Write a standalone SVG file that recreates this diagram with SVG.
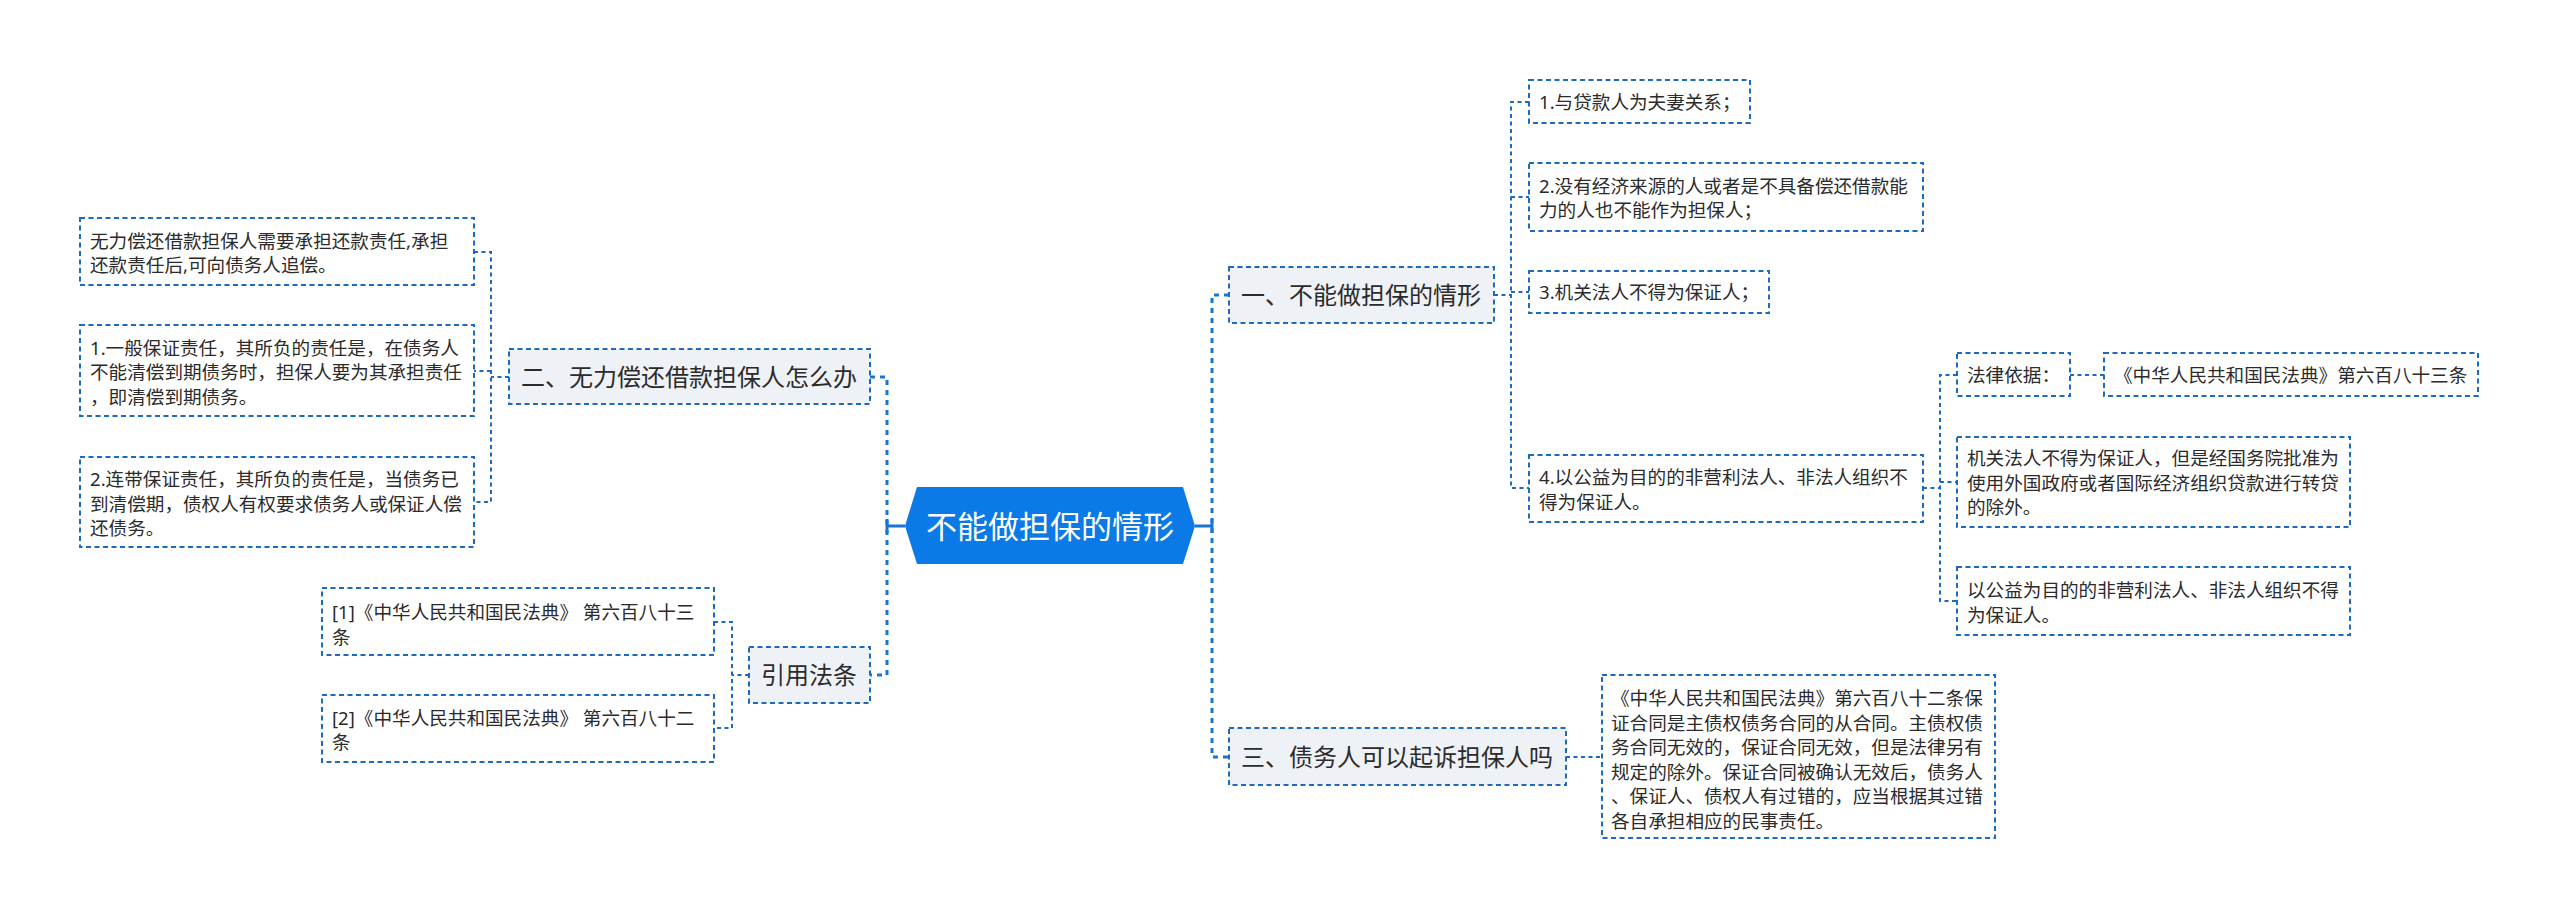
<svg xmlns="http://www.w3.org/2000/svg" width="2560" height="919" viewBox="0 0 2560 919">
<style>
text{font-family:"Noto Sans","Noto Sans CJK SC",sans-serif;fill:#2b2b2b}
.leaf rect{fill:#fff;stroke:#1c6bc0;stroke-width:2;stroke-dasharray:5 3.5}
.leaf text{font-size:18.6px}
.l1 rect{fill:#eef1f5;stroke:#1c6bc0;stroke-width:2;stroke-dasharray:5 3.5}
.l1 text{font-size:24px}
.trunk{fill:none;stroke:#1a74d6;stroke-width:3;stroke-dasharray:5 5}
.solid{fill:none;stroke:#1a74d6;stroke-width:3}
.sub{fill:none;stroke:#1c6bc0;stroke-width:2;stroke-dasharray:4 3.5}
</style>
<rect width="2560" height="919" fill="#fff"/>
<g id="connectors">
<path class="trunk" d="M870,377 H887 V675 H870"/>
<path class="solid" d="M887,526 H905 M887,519 V533"/>
<path class="trunk" d="M1229,295 H1212 V757 H1229"/>
<path class="solid" d="M1195,526 H1212 M1212,519 V533"/>
<path class="sub" d="M509,377 H491 M474,252 H491 V502 H474 M491,371 H474"/>
<path class="sub" d="M749,675 H732 M714,622 H732 V728 H714"/>
<path class="sub" d="M1494,295 H1511 M1529,102 H1511 V488 H1529 M1511,197 H1529 M1511,292 H1529"/>
<path class="sub" d="M1923,488 H1940 M1957,375 H1940 V601 H1957 M1940,482 H1957"/>
<path class="sub" d="M2070,375 H2104"/>
<path class="sub" d="M1566,757 H1602"/>
</g>
<g id="root">
<polygon points="905,526 917,487 1183,487 1195,526 1183,564 917,564" fill="#0b7ae6"/>
<text x="1050" y="538" text-anchor="middle" style="font-size:31px;fill:#fff">不能做担保的情形</text>
</g>
<g id="n2" class="l1">
<rect x="509" y="349" width="361" height="55"/>
<text x="521" y="385.5">二、无力偿还借款担保人怎么办</text>
</g>
<g id="n2a" class="leaf">
<rect x="80" y="218" width="394" height="67"/>
<text x="90"><tspan x="90" y="248">无力偿还借款担保人需要承担还款责任,承担</tspan><tspan x="90" y="271.5">还款责任后,可向债务人追偿。</tspan></text>
</g>
<g id="n2b" class="leaf">
<rect x="80" y="325" width="394" height="91"/>
<text x="90"><tspan x="90" y="354.5">1.一般保证责任，其所负的责任是，在债务人</tspan><tspan x="90" y="379">不能清偿到期债务时，担保人要为其承担责任</tspan><tspan x="90" y="403.5">，即清偿到期债务。</tspan></text>
</g>
<g id="n2c" class="leaf">
<rect x="80" y="457" width="394" height="90"/>
<text x="90"><tspan x="90" y="486">2.连带保证责任，其所负的责任是，当债务已</tspan><tspan x="90" y="510.5">到清偿期，债权人有权要求债务人或保证人偿</tspan><tspan x="90" y="535">还债务。</tspan></text>
</g>
<g id="n4" class="l1">
<rect x="749" y="647" width="121" height="56"/>
<text x="761" y="684">引用法条</text>
</g>
<g id="n4a" class="leaf">
<rect x="322" y="588" width="392" height="67"/>
<text x="332"><tspan x="332" y="619">[1]《中华人民共和国民法典》 第六百八十三</tspan><tspan x="332" y="643.5">条</tspan></text>
</g>
<g id="n4b" class="leaf">
<rect x="322" y="695" width="392" height="67"/>
<text x="332"><tspan x="332" y="724.5">[2]《中华人民共和国民法典》 第六百八十二</tspan><tspan x="332" y="749">条</tspan></text>
</g>
<g id="n1" class="l1">
<rect x="1229" y="267" width="265" height="56"/>
<text x="1241" y="304">一、不能做担保的情形</text>
</g>
<g id="n1a" class="leaf">
<rect x="1529" y="80" width="221" height="43"/>
<text x="1539" y="108.5">1.与贷款人为夫妻关系；</text>
</g>
<g id="n1b" class="leaf">
<rect x="1529" y="163" width="394" height="68"/>
<text x="1539"><tspan x="1539" y="193">2.没有经济来源的人或者是不具备偿还借款能</tspan><tspan x="1539" y="217">力的人也不能作为担保人；</tspan></text>
</g>
<g id="n1c" class="leaf">
<rect x="1529" y="271" width="240" height="42"/>
<text x="1539" y="299">3.机关法人不得为保证人；</text>
</g>
<g id="n1d" class="leaf">
<rect x="1529" y="455" width="394" height="67"/>
<text x="1539"><tspan x="1539" y="484">4.以公益为目的的非营利法人、非法人组织不</tspan><tspan x="1539" y="508.5">得为保证人。</tspan></text>
</g>
<g id="n1d1" class="leaf">
<rect x="1957" y="353" width="113" height="43"/>
<text x="1967" y="381.5">法律依据：</text>
</g>
<g id="n1d1a" class="leaf">
<rect x="2104" y="353" width="374" height="43"/>
<text x="2114" y="381.5">《中华人民共和国民法典》第六百八十三条</text>
</g>
<g id="n1d2" class="leaf">
<rect x="1957" y="437" width="393" height="90"/>
<text x="1967"><tspan x="1967" y="465">机关法人不得为保证人，但是经国务院批准为</tspan><tspan x="1967" y="489.5">使用外国政府或者国际经济组织贷款进行转贷</tspan><tspan x="1967" y="514">的除外。</tspan></text>
</g>
<g id="n1d3" class="leaf">
<rect x="1957" y="567" width="393" height="68"/>
<text x="1967"><tspan x="1967" y="597">以公益为目的的非营利法人、非法人组织不得</tspan><tspan x="1967" y="621.5">为保证人。</tspan></text>
</g>
<g id="n3" class="l1">
<rect x="1229" y="728" width="337" height="57"/>
<text x="1241" y="765.5">三、债务人可以起诉担保人吗</text>
</g>
<g id="n3a" class="leaf">
<rect x="1602" y="675" width="393" height="163"/>
<text x="1611"><tspan x="1611" y="705">《中华人民共和国民法典》第六百八十二条保</tspan><tspan x="1611" y="729.5">证合同是主债权债务合同的从合同。主债权债</tspan><tspan x="1611" y="754">务合同无效的，保证合同无效，但是法律另有</tspan><tspan x="1611" y="778.5">规定的除外。保证合同被确认无效后，债务人</tspan><tspan x="1611" y="803">、保证人、债权人有过错的，应当根据其过错</tspan><tspan x="1611" y="827.5">各自承担相应的民事责任。</tspan></text>
</g>
</svg>
